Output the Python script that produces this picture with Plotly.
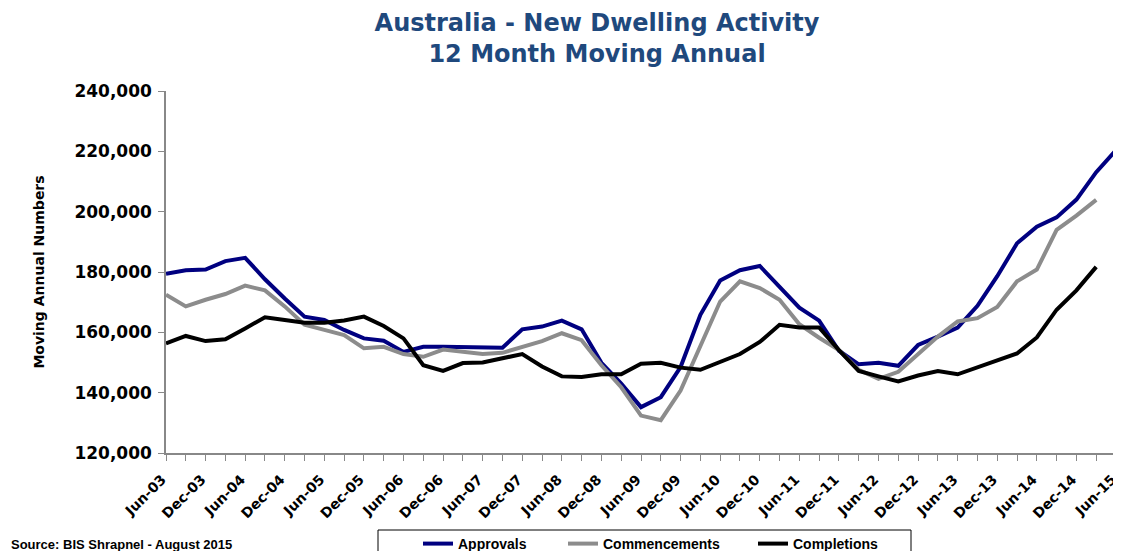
import plotly.graph_objects as go

# Quarterly categories Jun-03 .. Jun-15
months = ["Jun", "Sep", "Dec", "Mar"]
categories = []
yr = 3
for i in range(49):
    m = months[i % 4]
    if m == "Mar":
        yr += 1
    categories.append(f"{m}-{yr:02d}")

approvals = [179400, 180600, 180800, 183600, 184700, 177600, 171200, 165200, 164100, 160800,
             158000, 157200, 153500, 155200, 155200, 155000, 154900, 154900, 161000, 161900,
             163900, 161000, 149900, 143000, 135200, 138500, 148500, 165800, 177200, 180600,
             182000, 175000, 168200, 163900, 153900, 149400, 149900, 148900, 155800, 158600,
             161600, 168800, 178600, 189500, 195000, 198100, 204000, 213100, 220400]
commencements = [172500, 168600, 170800, 172700, 175500, 173900, 168600, 162500, 160800, 159100,
                 154700, 155200, 152800, 151900, 154300, 153500, 152800, 153200, 155200, 157100,
                 159700, 157400, 149100, 141800, 132400, 130900, 140700, 155200, 170200, 176900,
                 174700, 170800, 162700, 158200, 154100, 147600, 144600, 146900, 152800, 158600,
                 163600, 164700, 168400, 176900, 180800, 194000, 198700, 203900, None]
completions = [156300, 158800, 157100, 157700, 161300, 165000, 164100, 163200, 163200, 163900,
               165200, 162100, 158000, 149100, 147200, 149800, 150000, 151300, 152800, 148700,
               145400, 145200, 146100, 146100, 149600, 149900, 148300, 147600, 150200, 152800,
               156800, 162500, 161600, 161600, 154100, 147200, 145400, 143700, 145700, 147200,
               146100, 148500, 150800, 153000, 158300, 167500, 173900, 181700, None]

series_names = ["Approvals", "Commencements", "Completions"]
series_colors = ["#000080", "#8C8C8C", "#000000"]

tick_text = [c if i % 2 == 0 else "" for i, c in enumerate(categories)]
y_ticks = [120000, 140000, 160000, 180000, 200000, 220000, 240000]

FONT = "DejaVu Sans"
LFONT = "Liberation Sans"

# page body has an 8px margin; figure sized to fill the rest of the window
OFF = 8
W, H = 1121 - OFF, 551 - OFF
PL, PR, PT, PB = 166 - OFF, 1116 - OFF, 91 - OFF, 453 - OFF  # plot area in figure px
PW, PH = PR - PL, PB - PT


def cx(X):  # window px -> container fraction
    return (X - OFF) / W


def cy(Y):
    return 1 - (Y - OFF) / H


def px_(X):  # window px -> paper fraction
    return (X - OFF - PL) / PW


def py_(Y):
    return (PB - (Y - OFF)) / PH


legend_ids = ["legend", "legend2", "legend3"]
legend_left = [418, 563, 753]

fig = go.Figure()
for name, vals, col, lid in zip(series_names, [approvals, commencements, completions],
                                series_colors, legend_ids):
    fig.add_trace(go.Scatter(x=categories, y=vals, name=name, mode="lines",
                             line=dict(color=col, width=4), connectgaps=False,
                             legend=lid))

leg_common = dict(orientation="h", xref="container", yref="container", xanchor="left",
                  yanchor="top", borderwidth=0, bgcolor="rgba(0,0,0,0)", itemwidth=30,
                  font=dict(family=LFONT, size=14, color="#000000", weight="bold"))
legends = {lid: dict(x=cx(xl), y=cy(528), **leg_common) for lid, xl in zip(legend_ids, legend_left)}

fig.update_layout(
    width=W, height=H,
    margin=dict(l=PL, r=W - PR, t=PT, b=H - PB, autoexpand=False),
    paper_bgcolor="white", plot_bgcolor="white",
    font=dict(family=FONT, color="#000000"),
    title=dict(text="Australia - New Dwelling Activity<br>12 Month Moving Annual",
               xref="container", yref="container",
               x=cx(597), xanchor="center", y=cy(31), yanchor="top",
               font=dict(family=FONT, size=24, color="#1F497D", weight="bold")),
    showlegend=True,
    **legends,
    shapes=[dict(type="rect", xref="paper", yref="paper",
                 x0=px_(378), x1=px_(911), y0=py_(530), y1=py_(580),
                 line=dict(color="#000000", width=1), fillcolor="rgba(0,0,0,0)", layer="below")],
    annotations=[dict(text="Source: BIS Shrapnel - August 2015", xref="paper", yref="paper",
                      x=px_(9), y=py_(535), xanchor="left", yanchor="top",
                      showarrow=False,
                      font=dict(family=LFONT, size=13, color="#000000", weight="bold"))],
)

fig.update_xaxes(type="category", range=[0, 48], tickmode="array", tickvals=categories,
                 ticktext=tick_text, tickangle=-45, ticks="outside", ticklen=6,
                 ticklabelstandoff=5, ticklabelshift=-4,
                 tickcolor="#888888", showline=True, linecolor="#888888", linewidth=1.5,
                 showgrid=False, zeroline=False, automargin=False,
                 tickfont=dict(family=FONT, size=14, color="#000000", weight="bold"))
fig.update_yaxes(range=[120000, 240000], tickmode="array", tickvals=y_ticks,
                 ticktext=[f"{v:,}" for v in y_ticks], ticks="outside", ticklen=6,
                 ticklabelstandoff=3,
                 tickcolor="#888888", showline=True, linecolor="#888888", linewidth=1.5,
                 showgrid=False, zeroline=False, automargin=False,
                 tickfont=dict(family=FONT, size=17, color="#000000", weight="bold"),
                 title=dict(text="Moving Annual Numbers", standoff=27,
                            font=dict(family=FONT, size=14, color="#000000", weight="bold")))

fig.write_html("out.html")
